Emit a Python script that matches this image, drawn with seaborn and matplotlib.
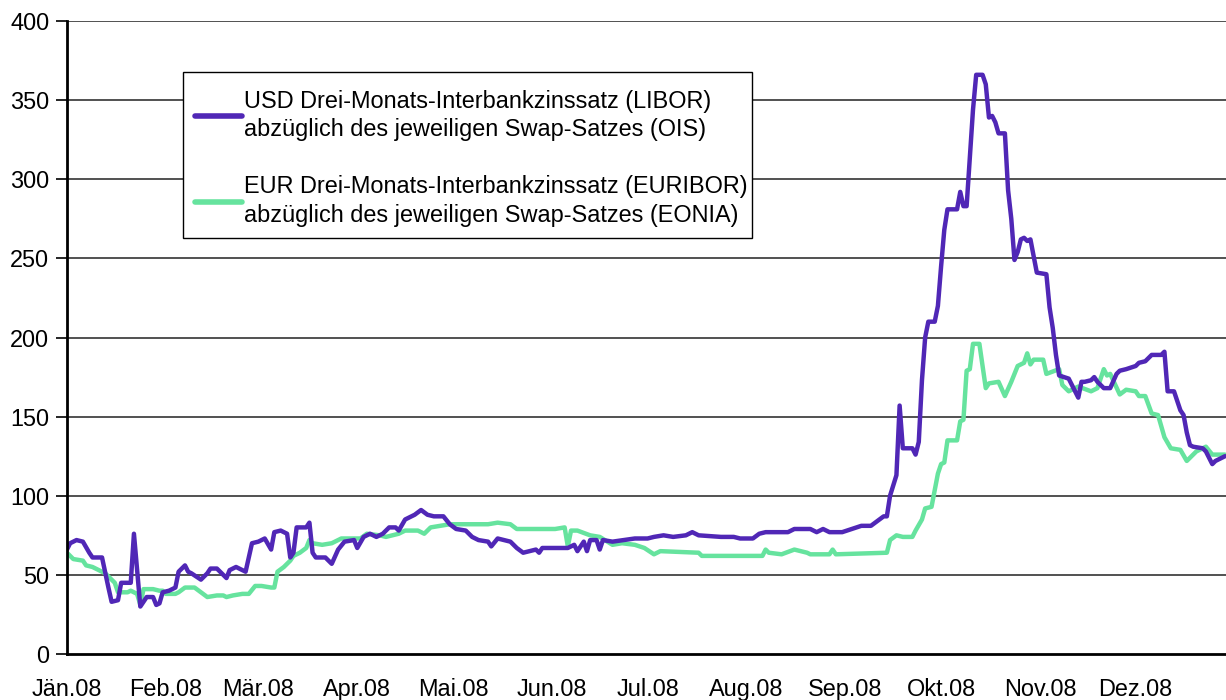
"""
Spread between three-month interbank rates and overnight swap rates, 2008
(USD LIBOR-OIS vs. EUR EURIBOR-EONIA), in basis points.
"""

import pandas as pd
import numpy as np
import matplotlib
matplotlib.use('Agg')
import matplotlib.pyplot as plt
from matplotlib.patches import Rectangle
import seaborn as sns

OUTPUT_PATH = 'out.png'

# Days since 1 Jan 2008 and spread values
usd_days = [0, 1, 3, 5, 7, 8, 11, 13, 14, 16, 17, 19, 20, 21, 23, 25, 27, 28, 29, 30,
            32, 34, 35, 37, 38, 39, 42, 44, 45, 47, 50, 51, 53, 56, 58, 60, 62, 64, 65, 67,
            69, 70, 71, 72, 75, 76, 77, 78, 81, 83, 85, 87, 90, 91, 93, 95, 97, 99, 101, 103,
            104, 106, 109, 111, 113, 115, 118, 120, 122, 125, 127, 129, 132, 133, 135, 137, 139, 141, 143, 145,
            147, 148, 149, 157, 159, 160, 162, 163, 164, 166, 167, 168, 171, 178, 182, 184, 187, 190, 194, 196,
            198, 205, 209, 211, 215, 217, 219, 226, 228, 233, 235, 237, 239, 243, 246, 249, 252, 254, 256, 257,
            258, 260, 261, 262, 265, 266, 267, 268, 269, 270, 272, 273, 274, 275, 276, 279, 280, 281, 282, 283,
            284, 285, 287, 288, 289, 290, 291, 292, 294, 295, 296, 297, 298, 299, 300, 301, 302, 304, 307, 308,
            309, 310, 311, 314, 315, 317, 318, 319, 321, 322, 323, 325, 327, 329, 330, 332, 335, 336, 338, 340,
            343, 344, 345, 347, 349, 350, 351, 352, 353, 356, 357, 359, 360, 363]
usd_spread = [66, 70, 72, 71, 64, 61, 61, 42, 33, 34, 45, 45, 45, 76, 30, 36, 36, 31, 32, 39,
              40, 42, 52, 56, 52, 51, 47, 51, 54, 54, 48, 53, 55, 52, 70, 71, 73, 66, 77, 78,
              76, 61, 64, 80, 80, 83, 64, 61, 61, 57, 66, 71, 72, 67, 74, 76, 74, 76, 80, 80,
              78, 85, 88, 91, 88, 87, 87, 82, 79, 78, 74, 72, 71, 68, 73, 72, 71, 67, 64, 65,
              66, 64, 67, 67, 69, 65, 71, 65, 72, 72, 66, 72, 71, 73, 73, 74, 75, 74, 75, 77,
              75, 74, 74, 73, 73, 76, 77, 77, 79, 79, 77, 79, 77, 77, 79, 81, 81, 84, 87, 87,
              100, 113, 157, 130, 130, 126, 134, 173, 200, 210, 210, 220, 245, 268, 281, 281, 292, 283, 283, 313,
              344, 366, 366, 360, 339, 340, 336, 329, 329, 293, 275, 249, 254, 262, 263, 261, 262, 241, 240, 219,
              206, 189, 176, 174, 170, 162, 172, 172, 173, 175, 172, 168, 168, 177, 179, 180, 182, 184, 185, 189,
              189, 191, 166, 166, 154, 151, 140, 132, 131, 130, 128, 120, 122, 125]

eur_days = [0, 2, 5, 6, 8, 10, 12, 13, 15, 16, 19, 20, 22, 23, 24, 25, 27, 29, 30, 31,
            34, 35, 37, 40, 42, 44, 47, 49, 50, 52, 55, 57, 59, 61, 64, 65, 66, 68, 70, 71,
            73, 75, 76, 77, 80, 83, 86, 90, 92, 94, 98, 100, 102, 104, 106, 110, 112, 114, 117, 120,
            123, 127, 132, 135, 139, 141, 146, 153, 156, 157, 158, 160, 164, 167, 171, 174, 178, 181, 184, 186,
            198, 199, 218, 219, 220, 224, 228, 232, 233, 239, 240, 241, 257, 258, 260, 262, 265, 266, 268, 269,
            271, 273, 274, 275, 276, 279, 280, 281, 282, 283, 284, 286, 288, 289, 292, 294, 296, 298, 300, 301,
            302, 303, 306, 307, 311, 312, 314, 317, 321, 323, 325, 326, 327, 330, 332, 335, 336, 338, 340, 342,
            344, 346, 349, 351, 354, 357, 359, 363]
eur_spread = [64, 60, 59, 56, 55, 53, 51, 49, 45, 39, 39, 40, 38, 31, 41, 41, 41, 40, 40, 38,
              38, 39, 42, 42, 39, 36, 37, 37, 36, 37, 38, 38, 43, 43, 42, 42, 52, 55, 59, 62,
              64, 67, 72, 70, 69, 70, 73, 73, 73, 76, 75, 74, 75, 76, 78, 78, 76, 80, 81, 82,
              82, 82, 82, 83, 82, 79, 79, 79, 80, 68, 78, 78, 75, 74, 69, 70, 69, 67, 63, 65,
              64, 62, 62, 66, 64, 63, 66, 64, 63, 63, 66, 63, 64, 72, 75, 74, 74, 78, 85, 92,
              93, 114, 120, 121, 135, 135, 147, 148, 179, 180, 196, 196, 168, 171, 172, 163, 172, 182, 184, 190,
              183, 186, 186, 177, 180, 170, 166, 169, 166, 168, 180, 176, 177, 164, 167, 166, 163, 163, 152, 151,
              137, 130, 129, 122, 128, 131, 126, 126]

usd_label = 'USD Drei-Monats-Interbankzinssatz (LIBOR)\nabzüglich des jeweiligen Swap-Satzes (OIS)'
eur_label = 'EUR Drei-Monats-Interbankzinssatz (EURIBOR)\nabzüglich des jeweiligen Swap-Satzes (EONIA)'

month_labels = ['Jän.08', 'Feb.08', 'Mär.08', 'Apr.08', 'Mai.08', 'Jun.08',
                'Jul.08', 'Aug.08', 'Sep.08', 'Okt.08', 'Nov.08', 'Dez.08']
y_ticks = [0, 50, 100, 150, 200, 250, 300, 350, 400]

USD_COLOR = '#5027B6'
EUR_COLOR = '#66E39E'
FONT_SIZE = 16.9

start = pd.Timestamp('2008-01-01')
usd = pd.DataFrame({'date': start + pd.to_timedelta(usd_days, unit='D'),
                    'value': usd_spread, 'series': usd_label})
eur = pd.DataFrame({'date': start + pd.to_timedelta(eur_days, unit='D'),
                    'value': eur_spread, 'series': eur_label})

sns.set_style('white')
plt.rcParams['font.family'] = ['Liberation Sans', 'DejaVu Sans']
plt.rcParams['text.color'] = 'black'

fig = plt.figure(figsize=(12.26, 7.0), dpi=100)
ax = fig.add_axes([0.0546, 0.0657, 0.9454, 0.9043])

# grid first so the lines sit on top
for t in y_ticks[1:]:
    ax.axhline(t, color='#222222', linewidth=1.1, zorder=1)

sns.lineplot(data=usd, x='date', y='value', color=USD_COLOR, linewidth=3.2,
             label=usd_label, ax=ax, zorder=3, estimator=None, sort=False)
sns.lineplot(data=eur, x='date', y='value', color=EUR_COLOR, linewidth=3.2,
             label=eur_label, ax=ax, zorder=2, estimator=None, sort=False)

ax.set_ylim(0, 400)
ax.set_xlim(start, start + pd.Timedelta(days=363.3))
ax.set_yticks(y_ticks)
month_starts = pd.date_range('2008-01-01', periods=12, freq='MS')
ax.set_xticks(month_starts)
ax.set_xticklabels(month_labels)
ax.set_xlabel('')
ax.set_ylabel('')

ax.tick_params(axis='y', left=True, length=8, width=1.2, pad=4.7, labelsize=FONT_SIZE, colors='black')
ax.tick_params(axis='x', length=0, pad=17, labelsize=FONT_SIZE, colors='black')

for side in ['top', 'right']:
    ax.spines[side].set_visible(False)
for side in ['left', 'bottom']:
    ax.spines[side].set_color('black')
    ax.spines[side].set_linewidth(2)
    ax.spines[side].set_zorder(4)

# legend without its own frame, box drawn separately for tighter padding
leg = ax.legend(loc='upper left', bbox_to_anchor=(0.1104, 0.891), fontsize=FONT_SIZE,
                frameon=False, handlelength=2.0, handletextpad=0.1,
                labelspacing=1.45, borderpad=0, borderaxespad=0)
leg.set_zorder(6)
for line in leg.get_lines():
    line.set_linewidth(4)
for txt in leg.get_texts():
    txt.set_linespacing(1.3)
    txt.set_color('black')
ax.add_patch(Rectangle((0.1001, 0.657), 0.4909, 0.2624, transform=ax.transAxes,
                       facecolor='white', edgecolor='black', linewidth=1.0, zorder=5))

fig.savefig(OUTPUT_PATH, dpi=100, facecolor='white')
